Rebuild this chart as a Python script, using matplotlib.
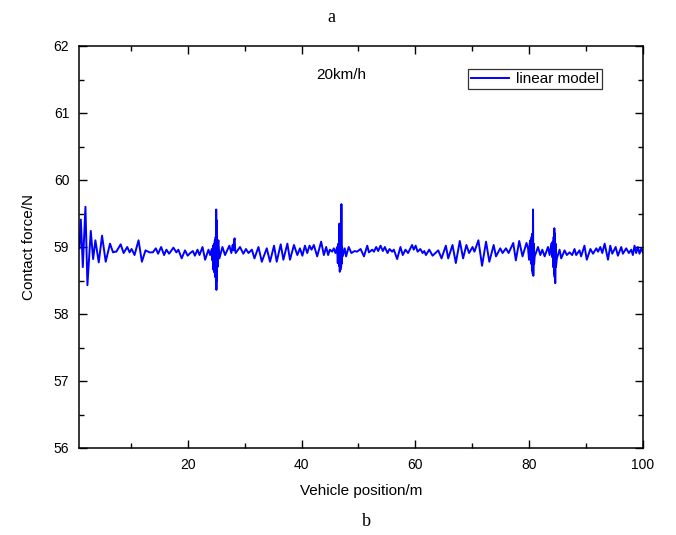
import matplotlib
matplotlib.use("Agg")
import matplotlib.pyplot as plt
from matplotlib.ticker import MultipleLocator, FixedLocator

plt.rcParams['font.family'] = ['Liberation Sans', 'DejaVu Sans']

# Vehicle position (m) and contact force (N)
position = [
    1.00, 1.22, 1.57, 2.03, 2.38, 2.97, 3.38, 3.78, 4.37, 4.95, 5.59, 6.35, 6.88, 7.20, 7.46,
    8.22, 8.74, 9.38, 9.79, 10.14, 10.66, 11.36, 11.95, 12.59, 13.29, 13.87, 14.40, 14.80,
    15.33, 15.85, 16.26, 16.73, 17.49, 18.01, 18.36, 18.94, 19.53, 19.99,
    20.44, 20.91, 21.26, 21.72, 22.07, 22.60, 23.06, 23.65, 23.94, 24.23,
    24.34, 24.44, 24.52, 24.61, 24.69, 24.77, 24.84, 24.91, 24.97, 25.01, 25.05, 25.09,
    25.14, 25.19, 25.24, 25.31, 25.40, 25.57, 26.10, 26.56, 27.32, 27.67, 27.90, 28.04,
    28.14, 28.25, 28.34, 28.43, 29.19, 29.77, 30.24,
    30.68, 31.27, 31.73, 32.43, 33.02, 33.89, 34.47, 35.17, 35.64, 36.34, 36.81, 37.51,
    37.97, 38.67, 39.26, 39.72,
    40.15, 40.60, 41.00, 41.41, 41.76, 42.17, 42.75, 43.45, 43.92, 44.33, 44.68, 44.97,
    45.38, 45.67, 45.96,
    46.25, 46.37, 46.48, 46.58, 46.66, 46.72, 46.78, 46.84, 46.90, 46.96, 47.01, 47.06,
    47.13, 47.24, 47.59, 47.83, 48.29, 48.76, 49.34, 49.75,
    50.38, 50.97, 51.55, 51.84, 52.43, 52.72, 53.12, 53.47, 53.88, 54.29, 54.64, 55.11,
    55.46, 55.92, 56.22, 56.80, 57.38, 57.79, 58.26, 58.72, 59.42, 59.71,
    60.05, 60.40, 60.87, 61.28, 61.57, 61.86, 62.44, 63.03, 64.02, 64.60, 65.36, 65.77,
    66.53, 67.11, 67.81, 68.39, 68.97, 69.44, 70.05, 70.38, 71.08, 71.72, 72.42, 73.00,
    73.76, 74.17, 74.92, 75.33, 75.92, 76.38, 77.20, 77.66, 78.25, 78.83, 79.53,
    79.80, 79.98, 80.09, 80.21, 80.32, 80.42, 80.49, 80.56, 80.62, 80.68, 80.73, 80.79,
    80.87, 80.97, 81.55, 81.96, 82.31, 82.72, 83.30, 83.59, 83.88, 84.02, 84.12, 84.22,
    84.30, 84.37, 84.42, 84.47, 84.52, 84.58, 84.64, 84.70, 84.87, 85.34, 85.63, 86.22,
    86.62, 87.09, 87.56, 87.97, 88.26, 88.84, 89.13, 89.71, 90.12, 90.76, 91.22, 91.80,
    92.10, 92.50, 92.85, 93.26, 93.85, 94.25, 94.60, 95.19, 95.59, 96.18, 96.47, 97.05,
    97.52, 97.93, 98.22, 98.51, 98.80, 99.09, 99.39, 99.68, 99.97,
]
contact_force = [
    58.98, 59.41, 58.70, 59.60, 58.43, 59.24, 58.82, 59.10, 58.77, 59.17, 58.78, 59.05, 58.92, 58.93, 58.93,
    59.04, 58.91, 59.00, 58.92, 58.97, 58.88, 59.10, 58.78, 58.95, 58.92, 58.92, 58.98, 58.90,
    59.00, 58.88, 58.96, 58.90, 58.99, 58.92, 58.96, 58.83, 58.95, 58.87,
    58.91, 58.94, 58.87, 58.96, 58.88, 59.00, 58.81, 58.96, 58.88, 58.97,
    58.80, 59.02, 58.66, 59.05, 58.62, 59.10, 58.55, 59.15, 58.40, 59.56, 58.36, 59.40,
    58.50, 59.10, 58.70, 59.05, 59.10, 58.83, 59.00, 58.88, 59.02, 58.91, 59.03, 58.95,
    59.10, 59.13, 58.95, 58.91, 59.00, 58.90, 58.97,
    58.91, 58.96, 58.83, 59.00, 58.78, 58.98, 58.78, 59.02, 58.78, 59.04, 58.81, 59.05,
    58.81, 59.03, 58.88, 58.98,
    58.87, 59.02, 58.91, 59.02, 58.96, 59.03, 58.86, 59.08, 58.88, 59.00, 58.88, 58.96,
    58.93, 58.98, 58.91,
    59.00, 58.76, 59.05, 58.72, 59.35, 58.63, 59.20, 58.66, 59.10, 58.70, 59.64, 58.75,
    59.00, 58.86, 58.98, 58.86, 59.00, 58.91, 58.94, 58.93,
    58.97, 58.86, 59.02, 58.92, 58.96, 58.93, 59.00, 58.94, 59.02, 58.94, 59.00, 58.91,
    58.97, 58.93, 58.96, 58.82, 59.00, 58.88, 58.96, 58.91, 59.03, 58.96,
    59.02, 58.93, 58.97, 58.91, 58.94, 58.88, 58.96, 58.87, 58.95, 58.83, 59.02, 58.83,
    59.03, 58.76, 59.09, 58.83, 59.03, 58.91, 59.00, 58.93, 59.10, 58.72, 59.08, 58.78,
    59.03, 58.86, 58.98, 58.91, 58.98, 58.91, 59.06, 58.80, 59.09, 58.86, 59.06,
    58.98, 58.81, 59.05, 59.10, 58.75, 59.15, 58.65, 59.20, 58.60, 59.56, 58.57, 59.05,
    58.75, 58.86, 59.00, 58.88, 58.96, 58.86, 59.00, 58.88, 59.05, 58.85, 59.08, 58.70,
    59.15, 58.60, 59.28, 58.55, 59.20, 58.46, 59.05, 58.70, 58.83, 58.96, 58.83, 58.95,
    58.88, 58.92, 58.88, 58.97, 58.88, 58.95, 58.86, 59.02, 58.81, 58.97, 58.90, 58.98,
    58.93, 59.00, 58.91, 59.05, 58.81, 59.02, 58.90, 59.00, 58.87, 59.00, 58.90, 58.98,
    58.91, 58.96, 58.88, 59.02, 58.91, 59.00, 58.90, 58.98, 58.92,
]

x_ticks = [20, 40, 60, 80, 100]
y_ticks = [56, 57, 58, 59, 60, 61, 62]
series_label = "linear model"
speed_label = "20km/h"

fig = plt.figure(figsize=(6.76, 5.35), dpi=100)
ax = fig.add_axes([79/676, 1-448/535, (643-79)/676, (448-46)/535])

ax.plot(position, contact_force, color='#0000ff', lw=1.4, label=series_label)

ax.set_xlim(0.9, 100)
ax.set_ylim(56, 62)
ax.xaxis.set_major_locator(FixedLocator(x_ticks))
ax.xaxis.set_minor_locator(MultipleLocator(10))
ax.yaxis.set_major_locator(FixedLocator(y_ticks))
ax.yaxis.set_minor_locator(MultipleLocator(0.5))
ax.tick_params(which='both', direction='in', top=True, right=True, labelsize=10, width=1.0)
ax.tick_params(which='major', length=6, pad=7)
ax.tick_params(which='minor', length=3.5)
for s in ax.spines.values():
    s.set_linewidth(1.1)

ax.set_xlabel("Vehicle position/m", fontsize=11, labelpad=9)
ax.set_ylabel("Contact force/N", fontsize=11, labelpad=13)

ax.text(46.96, 61.56, speed_label, fontsize=11, ha='center', va='center')

leg = ax.legend(loc='upper left', bbox_to_anchor=(0.690, 0.942), fontsize=11,
                frameon=True, fancybox=False, borderaxespad=0, borderpad=0.2,
                handlelength=2.5, handletextpad=0.4)
leg.get_frame().set_edgecolor('black')
leg.get_frame().set_linewidth(0.9)

fig.text(331/676, 1-17/535, "a", family=['Liberation Serif'], fontsize=13, ha='center', va='center')
fig.text(366/676, 1-522/535, "b", family=['Liberation Serif'], fontsize=13, ha='center', va='center')

fig.savefig("out.png", dpi=100)
